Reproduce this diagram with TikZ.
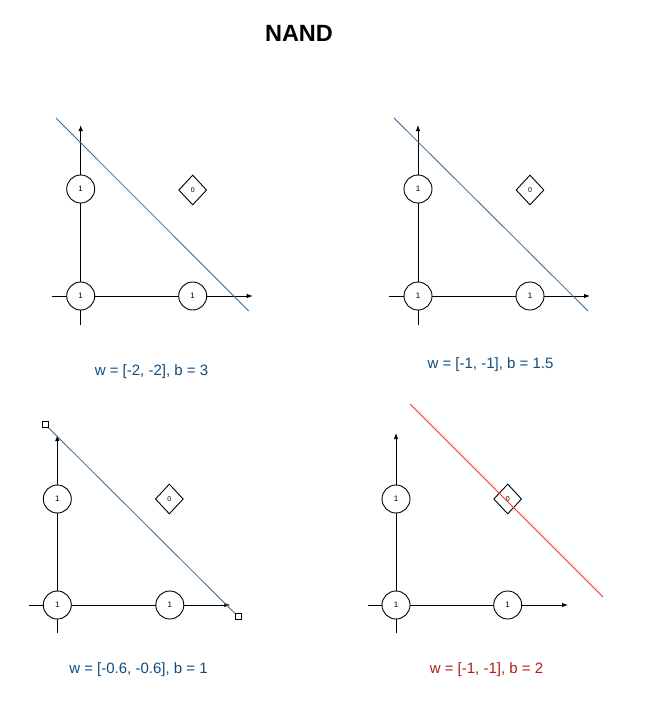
\documentclass[tikz,border=0pt]{standalone}
\usepackage{fontspec}
\setmainfont{Liberation Sans}
\usetikzlibrary{arrows.meta,shapes.geometric}
\definecolor{lineblue}{HTML}{2E6A9C}
\definecolor{textblue}{HTML}{0E4C80}
\definecolor{textred}{HTML}{B01E12}
\definecolor{linered}{HTML}{FF2A2A}

\begin{document}
\begin{tikzpicture}[x=1pt,y=-1pt,
    axis/.style={line width=0.9pt,-{Latex[length=6pt,width=4.5pt]}},
    one/.style={circle,draw,fill=white,line width=0.9pt,minimum size=28pt,inner sep=0pt,font=\fontsize{8}{9}\selectfont},
    zero/.style={diamond,draw,fill=white,line width=0.9pt,minimum width=28pt,minimum height=30pt,inner sep=0pt,font=\fontsize{7}{8}\selectfont},
    caption/.style={font=\fontsize{15}{17}\selectfont,text=textblue},
    handle/.style={draw,fill=white,line width=0.6pt,minimum size=6pt,inner sep=0pt}]
    \useasboundingbox (0,0) rectangle (662,726);

    % 标题
    \node[font=\bfseries\fontsize{23.5}{26}\selectfont] (title) at (299,33) {NAND};

    % 左上：w = [-2,-2], b = 3
    \begin{scope}[shift={(80.7,296)}]
        \coordinate (a1l) at (-29,0);
        \coordinate (a1r) at (172,0);
        \coordinate (a1b) at (0,29);
        \coordinate (a1t) at (0,-171);
        \draw[axis] (a1l) -- (a1r);
        \draw[axis] (a1b) -- (a1t);
        \node[one] (n1a) at (0,0) {1};
        \node[one] (n1b) at (0,-107) {1};
        \node[one] (n1c) at (112,0) {1};
        \node[zero] (n1d) at (112,-106) {0};
        % 分界线
        \coordinate (l1s) at (-24.7,-178);
        \coordinate (l1e) at (168,15);
        \draw[lineblue, line width=0.8pt] (l1s) -- (l1e);
        \node[caption] (c1) at (70.8,75.7) {w = [-2, -2], b = 3};
    \end{scope}

    % 右上：w = [-1,-1], b = 1.5
    \begin{scope}[shift={(418,296)}]
        \coordinate (a2l) at (-29,0);
        \coordinate (a2r) at (172,0);
        \coordinate (a2b) at (0,29);
        \coordinate (a2t) at (0,-171);
        \draw[axis] (a2l) -- (a2r);
        \draw[axis] (a2b) -- (a2t);
        \node[one] (n2a) at (0,0) {1};
        \node[one] (n2b) at (0,-107) {1};
        \node[one] (n2c) at (112,0) {1};
        \node[zero] (n2d) at (112,-106) {0};
        % 分界线
        \coordinate (l2s) at (-24,-178);
        \coordinate (l2e) at (170,15);
        \draw[lineblue, line width=0.8pt] (l2s) -- (l2e);
        \node[caption] (c2) at (72.5,69) {w = [-1, -1], b = 1.5};
    \end{scope}

    % 左下：w = [-0.6,-0.6], b = 1
    \begin{scope}[shift={(57.3,605)}]
        \coordinate (a3l) at (-28,0);
        \coordinate (a3r) at (173,0);
        \coordinate (a3b) at (0,28);
        \coordinate (a3t) at (0,-170);
        \draw[axis] (a3l) -- (a3r);
        \draw[axis] (a3b) -- (a3t);
        \node[one] (n3a) at (0,0) {1};
        \node[one] (n3b) at (0,-106) {1};
        \node[one] (n3c) at (112.5,0) {1};
        \node[zero] (n3d) at (112,-106) {0};
        % 分界线（带端点）
        \node[handle] (h3s) at (-12.3,-180.7) {};
        \node[handle] (h3e) at (181,11.7) {};
        \draw[lineblue, line width=0.8pt] (h3s.center) -- (h3e.center);
        \node[handle] at (h3s.center) {};
        \node[handle] at (h3e.center) {};
        \node[caption] (c3) at (81.2,65) {w = [-0.6, -0.6], b = 1};
    \end{scope}

    % 右下：w = [-1,-1], b = 2
    \begin{scope}[shift={(396,605)}]
        \coordinate (a4l) at (-28,0);
        \coordinate (a4r) at (172,0);
        \coordinate (a4b) at (0,28);
        \coordinate (a4t) at (0,-172);
        \draw[axis] (a4l) -- (a4r);
        \draw[axis] (a4b) -- (a4t);
        \node[one] (n4a) at (0,0) {1};
        \node[one] (n4b) at (0,-106) {1};
        \node[one] (n4c) at (111.7,0) {1};
        \node[zero] (n4d) at (111.7,-106) {0};
        % 分界线（错误）
        \coordinate (l4s) at (14,-201);
        \coordinate (l4e) at (207,-8);
        \draw[linered, line width=0.8pt] (l4s) -- (l4e);
        \node[caption, text=textred] (c4) at (90.5,64.5) {w = [-1, -1], b = 2};
    \end{scope}
\end{tikzpicture}
\end{document}
